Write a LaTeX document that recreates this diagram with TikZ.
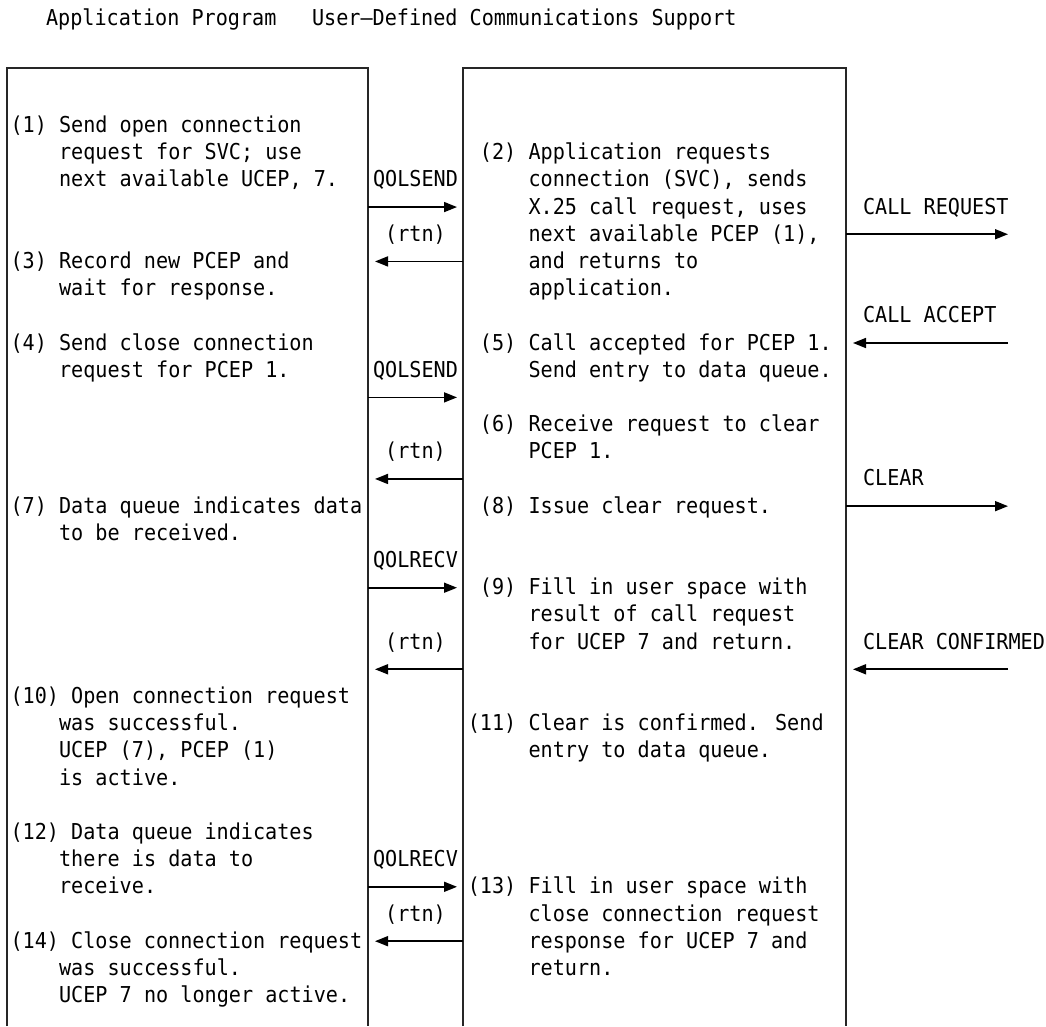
\documentclass[tikz,border=0pt]{standalone}
\usepackage{fontspec}
\usetikzlibrary{arrows.meta}
\newfontfamily\monofont[FakeStretch=0.92]{DejaVu Sans Mono}
\newcommand\mfont{\monofont\fontsize{21.9}{27.19}\selectfont}
% hanging indent of four character cells
\newcommand\ind{\hspace*{48.6pt}}

% multi-line blocks are anchored on the baseline of their last line
\tikzset{
  txt/.style={font=\mfont, inner sep=0pt, outer sep=0pt, anchor=base west, align=left},
  lbl/.style={font=\mfont, inner sep=0pt, outer sep=0pt, anchor=base},
  frame/.style={line width=1.2pt, draw=black!85},
  msg/.style={line width=1.6pt, -{Triangle[length=13pt,width=10pt]}},
}

\begin{document}
\begin{tikzpicture}[x=1pt,y=-1pt]
\useasboundingbox (0,0) rectangle (1046,1026);

% column frames (open at the bottom)
\coordinate (apTL) at (7,68);
\coordinate (apTR) at (368,68);
\coordinate (udTL) at (463,68);
\coordinate (udTR) at (846,68);
\coordinate (net)  at (1008,68);
\draw[frame] (apTL) ++(0,958) -- (apTL) -- (apTR) -- ++(0,958);
\draw[frame] (udTL) ++(0,958) -- (udTL) -- (udTR) -- ++(0,958);

% headings
\node[txt] (hApp) at (46,25) {Application Program};
\node[txt] (hUdc) at (312,25) {User—Defined Communications Support};

% application program steps
\node[txt] (s1) at (10.5,186.86) {(1) Send open connection\\\ind request for SVC; use\\\ind next available UCEP, 7.};
\node[txt] (s3) at (10.5,295.62) {(3) Record new PCEP and\\\ind wait for response.};
\node[txt] (s4) at (10.5,377.19) {(4) Send close connection\\\ind request for PCEP 1.};
\node[txt] (s7) at (10.5,540.33) {(7) Data queue indicates data\\\ind to be received.};
\node[txt] (s10) at (10.5,785.04) {(10) Open connection request\\\ind was successful.\\\ind UCEP (7), PCEP (1)\\\ind is active.};
\node[txt] (s12) at (10.5,893.8) {(12) Data queue indicates\\\ind there is data to\\\ind receive.};
\node[txt] (s14) at (10.5,1002.56) {(14) Close connection request\\\ind was successful.\\\ind UCEP 7 no longer active.};

% communications support steps
\node[txt] (s2) at (528.5,295.62) {\llap{(2) }Application requests\\connection (SVC), sends\\X.25 call request, uses\\next available PCEP (1),\\and returns to\\application.};
\node[txt] (s5) at (528.5,377.19) {\llap{(5) }Call accepted for PCEP 1.\\Send entry to data queue.};
\node[txt] (s6) at (528.5,458.76) {\llap{(6) }Receive request to clear\\PCEP 1.};
\node[txt] (s8) at (528.5,513.14) {\llap{(8) }Issue clear request.};
\node[txt] (s9) at (528.5,649.09) {\llap{(9) }Fill in user space with\\result of call request\\for UCEP 7 and return.};
\node[txt] (s11) at (528.5,757.85) {\llap{(11) }Clear is confirmed. Send\\entry to data queue.};
\node[txt] (s13) at (528.5,975.37) {\llap{(13) }Fill in user space with\\close connection request\\response for UCEP 7 and\\return.};

% message rows
\coordinate (m1) at (0,207.05);
\coordinate (m2) at (0,261.43);
\coordinate (m3) at (0,397.38);
\coordinate (m4) at (0,478.95);
\coordinate (m5) at (0,587.71);
\coordinate (m6) at (0,669.28);
\coordinate (m7) at (0,886.8);
\coordinate (m8) at (0,941.18);
\coordinate (n1) at (0,234.24);
\coordinate (n2) at (0,343.0);
\coordinate (n3) at (0,506.14);
\coordinate (n4) at (0,669.28);

% calls and returns between the two columns
\node[lbl] (q1) at (415.5,186.86) {QOLSEND};
\draw[msg, shorten >=6pt] (apTR |- m1) -- (udTL |- m1);
\node[lbl] (r1) at (415.5,241.24) {(rtn)};
\draw[msg, shorten >=7pt] (udTL |- m2) -- (apTR |- m2);
\node[lbl] (q2) at (415.5,377.19) {QOLSEND};
\draw[msg, shorten >=6pt] (apTR |- m3) -- (udTL |- m3);
\node[lbl] (r2) at (415.5,458.76) {(rtn)};
\draw[msg, shorten >=7pt] (udTL |- m4) -- (apTR |- m4);
\node[lbl] (q3) at (415.5,567.52) {QOLRECV};
\draw[msg, shorten >=6pt] (apTR |- m5) -- (udTL |- m5);
\node[lbl] (r3) at (415.5,649.09) {(rtn)};
\draw[msg, shorten >=7pt] (udTL |- m6) -- (apTR |- m6);
\node[lbl] (q4) at (415.5,866.61) {QOLRECV};
\draw[msg, shorten >=6pt] (apTR |- m7) -- (udTL |- m7);
\node[lbl] (r4) at (415.5,920.99) {(rtn)};
\draw[msg, shorten >=7pt] (udTL |- m8) -- (apTR |- m8);

% X.25 network traffic
\node[txt] (x1) at (863,214.05) {CALL REQUEST};
\draw[msg] (udTR |- n1) -- (net |- n1);
\node[txt] (x2) at (863,322.81) {CALL ACCEPT};
\draw[msg, shorten >=7pt] (net |- n2) -- (udTR |- n2);
\node[txt] (x3) at (863,485.95) {CLEAR};
\draw[msg] (udTR |- n3) -- (net |- n3);
\node[txt] (x4) at (863,649.09) {CLEAR CONFIRMED};
\draw[msg, shorten >=7pt] (net |- n4) -- (udTR |- n4);
\end{tikzpicture}
\end{document}
